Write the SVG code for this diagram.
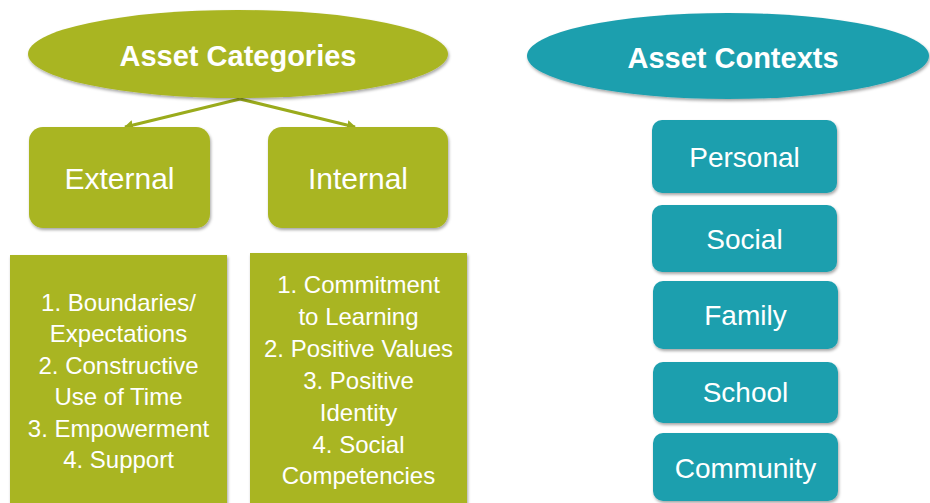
<svg xmlns="http://www.w3.org/2000/svg" width="930" height="503" viewBox="0 0 930 503">
<defs>
<filter id="sh" x="-10%" y="-10%" width="120%" height="130%">
<feDropShadow dx="1" dy="2" stdDeviation="1.5" flood-color="#000" flood-opacity="0.35"/>
</filter>
<marker id="ah" markerWidth="10" markerHeight="10" refX="8" refY="5" orient="auto" markerUnits="userSpaceOnUse">
<path d="M0,0 L9,5 L0,10 Z" fill="#9aab1c"/>
</marker>
<style>
.g{fill:#a9b521;filter:url(#sh)}
.t{fill:#1f9fae;filter:url(#sh)}
text{font-family:"Liberation Sans",Arial,sans-serif;fill:#fff;text-anchor:middle}
.h{font-weight:bold;font-size:29px}
.m{font-size:30px}
.c{font-size:28px}
.l{font-size:24px}
.con{stroke:#9aab1c;stroke-width:3;fill:none;marker-end:url(#ah)}
</style>
</defs>
<rect width="930" height="503" fill="#fff"/>
<g id="connectors">
<line class="con" x1="240" y1="99" x2="125" y2="127"/>
<line class="con" x1="240" y1="99" x2="355" y2="127"/>
</g>
<g id="asset-categories">
<ellipse class="g" cx="238" cy="54" rx="210" ry="44"/>
<text class="h" x="238" y="66">Asset Categories</text>
</g>
<g id="external">
<rect class="g" x="29" y="127" width="181" height="101" rx="14"/>
<text class="m" x="119.5" y="189">External</text>
</g>
<g id="internal">
<rect class="g" x="268" y="127" width="180" height="101" rx="14"/>
<text class="m" x="358" y="189">Internal</text>
</g>
<g id="external-list">
<rect class="g" x="10" y="255" width="217" height="260"/>
<text class="l" x="118.5" y="311">1. Boundaries/</text>
<text class="l" x="118.5" y="342">Expectations</text>
<text class="l" x="118.5" y="374">2. Constructive</text>
<text class="l" x="118.5" y="405">Use of Time</text>
<text class="l" x="118.5" y="437">3. Empowerment</text>
<text class="l" x="118.5" y="468">4. Support</text>
</g>
<g id="internal-list">
<rect class="g" x="250" y="253" width="217" height="262"/>
<text class="l" x="358.5" y="293">1. Commitment</text>
<text class="l" x="358.5" y="325">to Learning</text>
<text class="l" x="358.5" y="357">2. Positive Values</text>
<text class="l" x="358.5" y="389">3. Positive</text>
<text class="l" x="358.5" y="421">Identity</text>
<text class="l" x="358.5" y="453">4. Social</text>
<text class="l" x="358.5" y="484">Competencies</text>
</g>
<g id="asset-contexts">
<ellipse class="t" cx="728" cy="56" rx="201" ry="43"/>
<text class="h" x="733" y="68">Asset Contexts</text>
</g>
<g id="personal">
<rect class="t" x="652" y="120" width="185" height="73" rx="10"/>
<text class="c" x="744.5" y="167">Personal</text>
</g>
<g id="social">
<rect class="t" x="652" y="205" width="185" height="67" rx="10"/>
<text class="c" x="744.5" y="249">Social</text>
</g>
<g id="family">
<rect class="t" x="653" y="281" width="185" height="68" rx="10"/>
<text class="c" x="745.5" y="325">Family</text>
</g>
<g id="school">
<rect class="t" x="653" y="362" width="185" height="61" rx="10"/>
<text class="c" x="745.5" y="402">School</text>
</g>
<g id="community">
<rect class="t" x="653" y="433" width="185" height="68" rx="10"/>
<text class="c" x="745.5" y="478">Community</text>
</g>
</svg>
